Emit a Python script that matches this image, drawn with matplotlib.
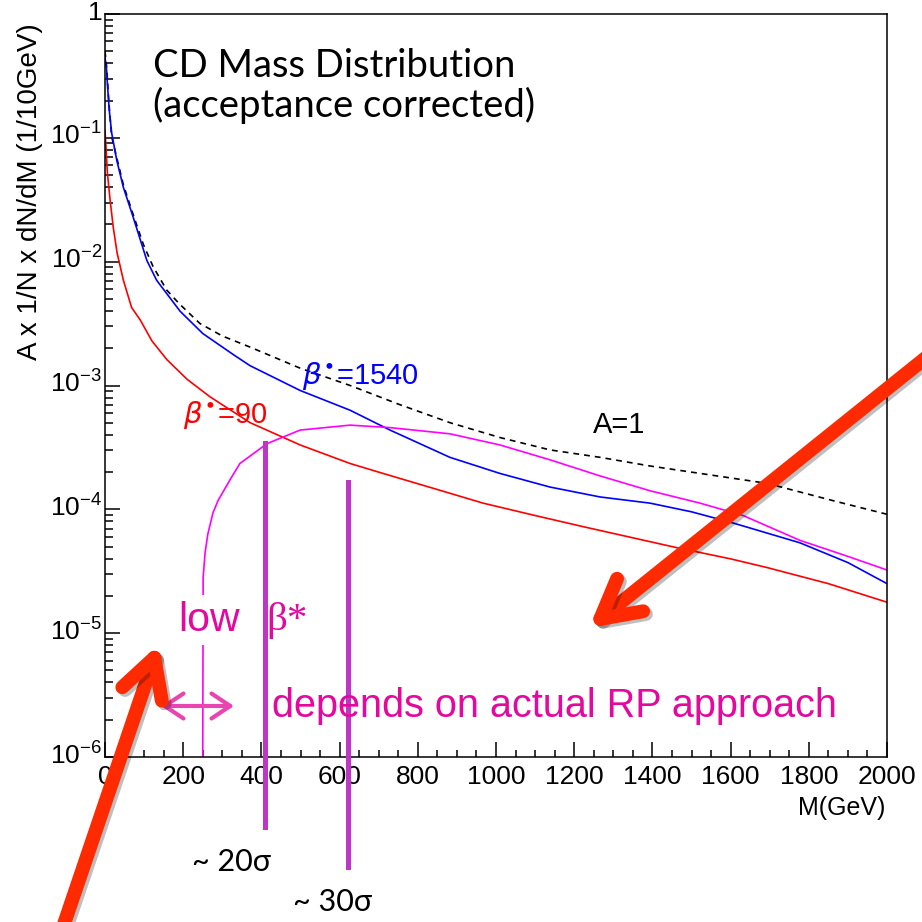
#CD mass distribution with acceptance for two beta* optics
import numpy as np
import matplotlib.pyplot as plt
from matplotlib.patches import FancyArrowPatch
from matplotlib.transforms import ScaledTranslation
from matplotlib.ticker import MultipleLocator, LogLocator, FuncFormatter, NullFormatter
import matplotlib.patheffects as pe

plt.rcParams['font.family'] = ['Liberation Sans', 'DejaVu Sans']
plt.rcParams['mathtext.fontset'] = 'custom'
plt.rcParams['mathtext.rm'] = 'Liberation Sans'
plt.rcParams['mathtext.it'] = 'Liberation Sans:italic'

# values: mass in GeV, log10 of A x 1/N dN/dM
m_a1 = [0, 4, 10, 17, 30, 47, 72, 98, 123, 158, 190, 243, 300, 371, 499, 627, 750,
        882, 1010, 1138, 1266, 1394, 1522, 1693, 1862, 2000]
log_a1 = [-0.30, -0.42, -0.72, -0.99, -1.16, -1.38, -1.62, -1.86, -2.04, -2.23, -2.34,
          -2.50, -2.60, -2.69, -2.86, -3.00, -3.15, -3.30, -3.42, -3.52, -3.58, -3.65,
          -3.71, -3.79, -3.93, -4.04]

m_1540 = [0, 4, 6, 11, 17, 30, 47, 72, 107, 132, 192, 250, 328, 371, 499, 627, 729, 882,
          1010, 1138, 1266, 1394, 1500, 1606, 1777, 1900, 2000]
log_1540 = [-0.35, -0.45, -0.56, -0.78, -0.96, -1.18, -1.40, -1.64, -1.99, -2.15, -2.40,
            -2.58, -2.75, -2.84, -3.04, -3.20, -3.36, -3.58, -3.71, -3.82, -3.90, -3.95,
            -4.02, -4.11, -4.27, -4.43, -4.60]

m_90 = [0, 3, 6, 13, 21, 31, 47, 68, 90, 120, 158, 210, 268, 371, 499, 627, 711, 850,
        967, 1100, 1223, 1350, 1463, 1600, 1693, 1850, 2000]
log_90 = [-0.94, -1.10, -1.28, -1.50, -1.72, -1.93, -2.15, -2.37, -2.47, -2.64, -2.79,
          -2.95, -3.09, -3.30, -3.48, -3.63, -3.71, -3.84, -3.95, -4.05, -4.14, -4.23,
          -4.31, -4.40, -4.47, -4.60, -4.75]

m_low = [250, 251, 256, 263, 276, 289, 320, 345, 414, 499, 627, 729, 882, 1010, 1138,
         1266, 1394, 1522, 1632, 1777, 1900, 2000]
log_low = [-6.0, -4.55, -4.35, -4.20, -4.03, -3.93, -3.76, -3.63, -3.47, -3.36, -3.32,
           -3.34, -3.39, -3.48, -3.60, -3.73, -3.85, -3.95, -4.05, -4.25, -4.38, -4.49]

# RP distance cuts (~20 sigma, ~30 sigma)
cut_m = [409, 621]
cut_top = [-3.465, -3.78]
cut_bottom = [-6.567, -6.89]
cut_labels = ['~ 20σ', '~ 30σ']

W = H = 922


def px(x, y):
    # picture pixel (from top-left) -> figure fraction
    return x / W, 1 - y / H


fig = plt.figure(figsize=(9.22, 9.22), dpi=100)
ax = fig.add_axes([105 / W, 1 - 757 / H, 782 / W, 743 / H])

ax.plot(m_a1, 10 ** np.array(log_a1), color='black', ls=(0, (3.5, 3)), lw=1.2)
ax.plot(m_1540, 10 ** np.array(log_1540), color='#0000ff', lw=1.2)
ax.plot(m_90, 10 ** np.array(log_90), color='#ff0000', lw=1.2)
ax.plot(m_low, 10 ** np.array(log_low), color='#ff00ff', lw=1.2)

ax.set_yscale('log')
ax.set_xlim(0, 2000)
ax.set_ylim(1e-6, 1)

ax.xaxis.set_major_locator(MultipleLocator(200))
ax.xaxis.set_minor_locator(MultipleLocator(50))
ax.yaxis.set_major_locator(LogLocator(base=10, numticks=10))
ax.yaxis.set_minor_locator(LogLocator(base=10, subs=np.arange(2, 10), numticks=20))
ax.yaxis.set_minor_formatter(NullFormatter())
ax.yaxis.set_major_formatter(FuncFormatter(
    lambda v, p: '1' if abs(v - 1) < 1e-9 else r'$10^{%d}$' % round(np.log10(v))))

ax.tick_params(which='both', direction='in', top=False, right=False)
ax.tick_params(axis='x', which='major', length=11, width=1.1, labelsize=19, pad=6)
ax.tick_params(axis='x', which='minor', length=5, width=1.1)
ax.tick_params(axis='y', which='major', length=11, width=1.1, labelsize=19, pad=2)
ax.tick_params(axis='y', which='minor', length=6, width=1.1)
for s in ax.spines.values():
    s.set_linewidth(1.1)

# ROOT puts the "10" on the tick, the exponent above it
lift = ScaledTranslation(0, 4 / 100, fig.dpi_scale_trans)
for lab in ax.get_yticklabels():
    lab.set_transform(lab.get_transform() + lift)

fig.text(*px(885, 808), 'M(GeV)', ha='right', va='center', fontsize=18)
fig.text(*px(30, 192), 'A x 1/N x dN/dM (1/10GeV)', rotation=90,
         ha='center', va='center', fontsize=20)

# curve labels
fig.text(*px(302, 376), r'$\beta^{\bullet}$=1540', color='#0000ff', fontsize=21,
         ha='left', va='center', math_fontfamily='dejavusans')
fig.text(*px(183, 415), r'$\beta^{\bullet}$=90', color='#ff0000', fontsize=21,
         ha='left', va='center', math_fontfamily='dejavusans')
fig.text(*px(593, 425), 'A=1', color='black', fontsize=21, ha='left', va='center')

fig.text(153, H - 48, 'CD Mass Distribution\n(acceptance corrected)',
         transform=None, family=['Lato', 'DejaVu Sans'], fontsize=27.5,
         ha='left', va='top', linespacing=1.1)

# slide annotations
pink = '#e4089f'
fig.text(*px(178, 620), 'low', color=pink, fontsize=29.5, ha='left', va='center',
         bbox=dict(facecolor='white', edgecolor='none', pad=4), zorder=5)
fig.text(*px(266, 620), 'β*', color=pink, fontsize=29.5, ha='left', va='center',
         family=['Liberation Serif', 'DejaVu Serif'], zorder=5)
fig.text(*px(272, 706), 'depends on actual RP approach', color=pink, fontsize=28.5,
         ha='left', va='center', zorder=5)

for m, top, bot in zip(cut_m, cut_top, cut_bottom):
    ax.plot([m, m], [10 ** top, 10 ** bot], color='#c035c8', lw=3.6,
            clip_on=False, zorder=6)
fig.text(*px(192, 862), cut_labels[0], family=['Lato', 'DejaVu Sans'], fontsize=22,
         ha='left', va='center')
fig.text(*px(293, 902), cut_labels[1], family=['Lato', 'DejaVu Sans'], fontsize=22,
         ha='left', va='center')

fig.add_artist(FancyArrowPatch(
    px(161, 706), px(234, 706), transform=fig.transFigure,
    arrowstyle='<->,head_length=0.45,head_width=0.3', mutation_scale=30,
    shrinkA=0, shrinkB=0, color='#e845b0', lw=3,
    capstyle='round', joinstyle='round', zorder=7))

shadow = [pe.SimpleLineShadow(offset=(2, -2), shadow_color='k', alpha=0.25), pe.Normal()]
for tail, tip in [((62, 930), (159, 644)), ((928, 356), (589, 628))]:
    fig.add_artist(FancyArrowPatch(
        px(*tail), px(*tip), transform=fig.transFigure,
        arrowstyle='->,head_length=0.55,head_width=0.3', mutation_scale=50,
        shrinkA=0, shrinkB=0, color='#ff2a00', lw=10,
        capstyle='round', joinstyle='round', path_effects=shadow, zorder=10))

fig.savefig('out.png', dpi=100)
